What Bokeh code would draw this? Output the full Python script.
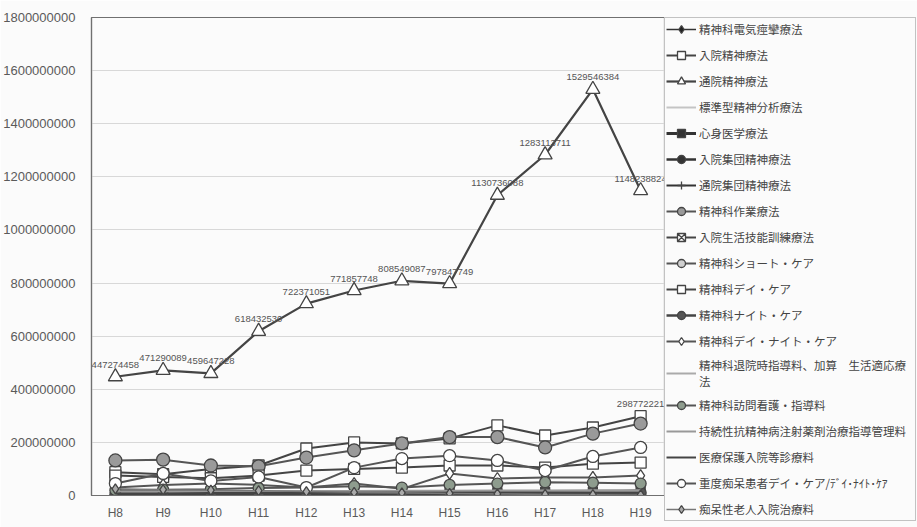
from bokeh.plotting import figure
from bokeh.models import (Legend, LegendItem, FixedTicker, NumeralTickFormatter,
                          ColumnDataSource, Range1d, FactorRange)
from bokeh.core.properties import value
from bokeh.embed import file_html
from bokeh.resources import INLINE

years = ["H8", "H9", "H10", "H11", "H12", "H13", "H14", "H15", "H16", "H17", "H18", "H19"]
y_ticks = [0, 200000000, 400000000, 600000000, 800000000, 1000000000,
           1200000000, 1400000000, 1600000000, 1800000000]

names = [
    "精神科電気痙攣療法",
    "入院精神療法",
    "通院精神療法",
    "標準型精神分析療法",
    "心身医学療法",
    "入院集団精神療法",
    "通院集団精神療法",
    "精神科作業療法",
    "入院生活技能訓練療法",
    "精神科ショート・ケア",
    "精神科デイ・ケア",
    "精神科ナイト・ケア",
    "精神科デイ・ナイト・ケア",
    "精神科退院時指導料、加算　生活適応療\n法",
    "精神科訪問看護・指導料",
    "持続性抗精神病注射薬剤治療指導管理料",
    "医療保護入院等診療料",
    "重度痴呆患者デイ・ケア/ﾃﾞｲ･ﾅｲﾄ･ｹｱ",
    "痴呆性老人入院治療料",
]

s01 = [2e6, 2e6, 3e6, 3e6, 4e6, 4e6, 5e6, 5e6, 6e6, 6e6, 7e6, 8e6]
s02 = [88e6, 80e6, 100e6, 113e6, 177e6, 200e6, 196e6, 215e6, 264e6, 226e6, 256e6, 298772221]
s03 = [447274458, 471290089, 459647228, 618432530, 722371051, 771857748,
       808549087, 797847749, 1130736088, 1283113711, 1529546384, 1148238824]
s04 = [1e6, 1e6, 1e6, 1e6, 1e6, 1e6, 1e6, 1e6, 1e6, 1e6, 1e6, 1e6]
s05 = [8e6, 8e6, 9e6, 9e6, 10e6, 10e6, 11e6, 12e6, 13e6, 14e6, 15e6, 16e6]
s06 = [15e6, 15e6, 14e6, 13e6, 12e6, 11e6, 10e6, 9e6, 8e6, 7e6, 7e6, 6e6]
s07 = [6e6, 6e6, 6e6, 6e6, 6e6, 5e6, 5e6, 5e6, 5e6, 5e6, 5e6, 5e6]
s08 = [132e6, 135e6, 113e6, 110e6, 143e6, 170e6, 196e6, 220e6, 220e6, 181e6, 233e6, 271e6]
s09 = [5e6, 6e6, 7e6, 8e6, 9e6, 10e6, 11e6, 12e6, 13e6, 14e6, 15e6, 16e6]
s10 = [0, 0, 0, 0, 0, 0, 0, 0, 0, 0, 12e6, 20e6]
s11 = [75e6, 70e6, 65e6, 75e6, 94e6, 100e6, 105e6, 113e6, 113e6, 105e6, 120e6, 124e6]
s12 = [3e6, 4e6, 5e6, 6e6, 7e6, 8e6, 9e6, 9e6, 10e6, 10e6, 10e6, 10e6]
s13 = [30e6, 40e6, 45e6, 40e6, 30e6, 45e6, 25e6, 83e6, 64e6, 68e6, 68e6, 75e6]
s14 = [10e6, 10e6, 10e6, 10e6, 10e6, 10e6, 10e6, 11e6, 11e6, 11e6, 12e6, 12e6]
s15 = [20e6, 22e6, 24e6, 28e6, 30e6, 35e6, 30e6, 40e6, 45e6, 50e6, 48e6, 45e6]
s16 = [15e6, 15e6, 16e6, 16e6, 17e6, 17e6, 18e6, 18e6, 19e6, 19e6, 20e6, 20e6]
s17 = [8e6, 8e6, 9e6, 9e6, 9e6, 10e6, 10e6, 10e6, 10e6, 10e6, 10e6, 10e6]
s18 = [45e6, 83e6, 55e6, 70e6, 30e6, 105e6, 139e6, 150e6, 132e6, 94e6, 147e6, 181e6]
s19 = [25e6, 22e6, 20e6, 18e6, 15e6, 12e6, 10e6, 8e6, 6e6, 4e6, 3e6, 2e6]

series = [s01, s02, s03, s04, s05, s06, s07, s08, s09, s10,
          s11, s12, s13, s14, s15, s16, s17, s18, s19]

# (line colour, line width, marker, marker size, fill colour)
styles = [
    ("#333333", 1.5, "diamond", 7, "#222222"),
    ("#444444", 2.0, "square", 11, "#ffffff"),
    ("#444444", 2.2, "triangle", 14, "#ffffff"),
    ("#c4c4c4", 2.0, None, 0, None),
    ("#333333", 3.0, "square", 8, "#333333"),
    ("#333333", 2.5, "circle", 9, "#333333"),
    ("#333333", 2.0, "cross", 10, "#333333"),
    ("#555555", 2.0, "circle", 13, "#9a9a9a"),
    ("#444444", 2.0, "square_x", 9, "#ffffff"),
    ("#555555", 2.0, "circle", 8, "#d0d0d0"),
    ("#444444", 2.0, "square", 11, "#ffffff"),
    ("#444444", 2.5, "circle", 11, "#555555"),
    ("#555555", 2.0, "diamond", 12, "#ffffff"),
    ("#aaaaaa", 2.0, None, 0, None),
    ("#555555", 2.0, "circle", 11, "#8e9c8e"),
    ("#999999", 2.0, None, 0, None),
    ("#444444", 2.0, None, 0, None),
    ("#555555", 2.0, "circle", 12, "#ffffff"),
    ("#777777", 1.5, "diamond", 10, "#aaaaaa"),
]

bg = "#fbfbfb"
p = figure(frame_width=573, frame_height=478,
           x_range=FactorRange(*years, range_padding=0),
           y_range=Range1d(0, 1800000000),
           output_backend="svg", toolbar_location=None,
           min_border_left=86, min_border_right=0,
           min_border_top=17, min_border_bottom=32,
           background_fill_color=bg, border_fill_color=bg)

p.outline_line_color = "#707070"
p.outline_line_width = 1.2
p.xgrid.grid_line_color = None
p.ygrid.grid_line_color = "#d8d8d8"
p.ygrid.grid_line_width = 1

p.yaxis.ticker = FixedTicker(ticks=y_ticks)
p.yaxis.formatter = NumeralTickFormatter(format="0")
for ax in (p.xaxis[0], p.yaxis[0]):
    ax.axis_line_color = "#707070"
    ax.axis_line_width = 1.2
    ax.major_tick_line_color = None
    ax.minor_tick_line_color = None
    ax.major_label_text_color = "#5a5a5a"
    ax.major_label_text_font = "Liberation Sans"
p.yaxis.major_label_text_font_size = "13px"
p.yaxis.major_label_standoff = 10
p.xaxis.major_label_text_font_size = "12px"
p.xaxis.major_label_standoff = 4

items = []
for name, vals, (lc, lw, mk, ms, fc) in zip(names, series, styles):
    src = ColumnDataSource(data=dict(x=years, y=vals))
    rends = [p.line("x", "y", source=src, line_color=lc, line_width=lw)]
    if mk is not None:
        rends.append(p.scatter("x", "y", source=src, marker=mk, size=ms,
                               fill_color=fc, line_color="#444444", line_width=1.3))
    items.append(LegendItem(label=name, renderers=rends))

# data labels
lab_src = ColumnDataSource(data=dict(x=years, y=s03, t=[str(int(v)) for v in s03]))
p.text("x", "y", text="t", source=lab_src, text_align="center", text_baseline="bottom",
       y_offset=-9, text_font_size="9.5px", text_color="#555555",
       text_font=value("Liberation Sans"))
lab2 = ColumnDataSource(data=dict(x=[years[-1]], y=[s02[-1]], t=[str(int(s02[-1]))]))
p.text("x", "y", text="t", source=lab2, text_align="center", text_baseline="bottom",
       y_offset=-9, text_font_size="9.5px", text_color="#555555",
       text_font=value("Liberation Sans"))

legend = Legend(items=items, location="top_left",
                label_text_font="Noto Sans CJK JP", label_text_font_size="11.5px",
                label_text_color="#444444", label_width=215,
                glyph_width=30, glyph_height=20, label_height=20, label_standoff=3,
                spacing=6, padding=1, margin=0,
                border_line_color="#8a8a8a", border_line_width=1,
                background_fill_color=bg, background_fill_alpha=1.0)
p.add_layout(legend, "right")

open("out.html", "w").write(file_html(p, INLINE))
